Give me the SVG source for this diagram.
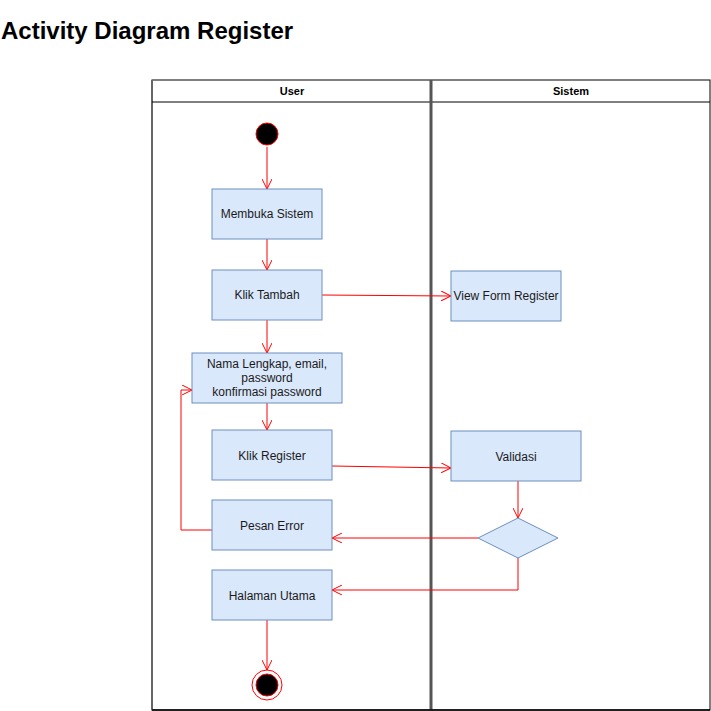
<svg xmlns="http://www.w3.org/2000/svg" width="711" height="711" viewBox="0 0 711 711">
<defs>
<style>
.title{font-family:"Liberation Sans",Arial,sans-serif;font-size:24px;font-weight:bold;fill:#000}
.hdr{font-family:"Liberation Sans",Arial,sans-serif;font-size:11px;font-weight:bold;fill:#000;text-anchor:middle}
.box{fill:#dae8fc;stroke:#6c8ebf;stroke-width:1}
.lbl{font-family:"Liberation Sans",Arial,sans-serif;font-size:12px;fill:#1a1a1a;text-anchor:middle}
.edge{fill:none;stroke:#ff0000;stroke-width:1;marker-end:url(#arr)}
</style>
<marker id="arr" viewBox="0 0 10 10" refX="10" refY="5" markerWidth="10" markerHeight="10" markerUnits="userSpaceOnUse" orient="auto">
<path d="M0,0 L10,5 L0,10" fill="none" stroke="#ff0000" stroke-width="1"/>
</marker>
</defs>
<rect width="711" height="711" fill="#fff"/>
<text class="title" x="1" y="39">Activity Diagram Register</text>
<g id="pool">
<rect x="152" y="80" width="558" height="630" fill="none" stroke="#000" stroke-width="1"/>
<line x1="152" y1="80" x2="152" y2="710" stroke="#666" stroke-width="2"/>
<line x1="152" y1="102" x2="710" y2="102" stroke="#000" stroke-width="1"/>
<line x1="431" y1="80" x2="431" y2="710" stroke="#555" stroke-width="3"/>
<line x1="152" y1="710" x2="710" y2="710" stroke="#000" stroke-width="1.5"/>
<text class="hdr" x="292" y="95">User</text>
<text class="hdr" x="571" y="95">Sistem</text>
</g>
<g id="edges">
<path class="edge" d="M267,147 L267,189"/>
<path class="edge" d="M267,239 L267,270"/>
<path class="edge" d="M322,295 L451,296"/>
<path class="edge" d="M267,320 L267,353"/>
<path class="edge" d="M267,403 L267,430"/>
<path class="edge" d="M332,466 L451,468"/>
<path class="edge" d="M518,481 L518,518"/>
<path class="edge" d="M478,538 L332,538"/>
<path class="edge" d="M518,558 L518,590 L332,590"/>
<path class="edge" d="M212,530 L181,530 L181,390 L192,390"/>
<path class="edge" d="M267,620 L267,670"/>
</g>
<g id="start">
<circle cx="267" cy="134" r="11" fill="#000" stroke="#ff0000" stroke-width="1"/>
</g>
<g id="membuka">
<rect class="box" x="212" y="189" width="110" height="50"/>
<text class="lbl" x="267" y="218">Membuka Sistem</text>
</g>
<g id="kliktambah">
<rect class="box" x="212" y="270" width="110" height="50"/>
<text class="lbl" x="267" y="299">Klik Tambah</text>
</g>
<g id="viewform">
<rect class="box" x="451" y="271" width="110" height="50"/>
<text class="lbl" x="506" y="300">View Form Register</text>
</g>
<g id="nama">
<rect class="box" x="192" y="353" width="150" height="50"/>
<text class="lbl" x="267" y="368">Nama Lengkap, email,</text>
<text class="lbl" x="267" y="382">password</text>
<text class="lbl" x="267" y="396">konfirmasi password</text>
</g>
<g id="klikregister">
<rect class="box" x="212" y="430" width="120" height="50"/>
<text class="lbl" x="272" y="460">Klik Register</text>
</g>
<g id="validasi">
<rect class="box" x="451" y="431" width="130" height="50"/>
<text class="lbl" x="516" y="461">Validasi</text>
</g>
<g id="decision">
<polygon class="box" points="518,518 558,538 518,558 478,538"/>
</g>
<g id="pesanerror">
<rect class="box" x="212" y="500" width="120" height="50"/>
<text class="lbl" x="272" y="530">Pesan Error</text>
</g>
<g id="halaman">
<rect class="box" x="212" y="570" width="120" height="50"/>
<text class="lbl" x="272" y="600">Halaman Utama</text>
</g>
<g id="end">
<circle cx="267" cy="685" r="15" fill="#fff" stroke="#ff0000" stroke-width="1"/>
<circle cx="267" cy="685" r="11" fill="#000" stroke="#ff0000" stroke-width="1"/>
</g>
</svg>
